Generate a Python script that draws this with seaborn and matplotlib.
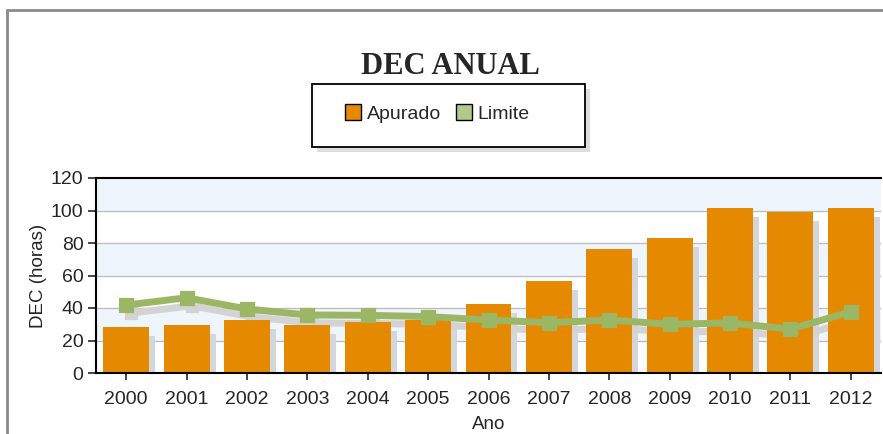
import numpy as np
import pandas as pd
import matplotlib
matplotlib.use("Agg")
import matplotlib.pyplot as plt
import matplotlib.transforms as mtransforms
from matplotlib.lines import Line2D
from matplotlib.patches import Rectangle
import seaborn as sns

# Values
anos = ["2000", "2001", "2002", "2003", "2004", "2005", "2006",
        "2007", "2008", "2009", "2010", "2011", "2012"]
apurado = [28.3, 29.5, 32.6, 29.5, 31.4, 32.6, 42.5, 56.6, 76.3, 83.0, 101.7, 99.3, 101.7]
limite = [41.8, 46.3, 39.4, 35.7, 35.5, 34.7, 32.6, 31.0, 32.6, 30.0, 30.8, 27.0, 37.7]
y_ticks = [0, 20, 40, 60, 80, 100, 120]

df = pd.DataFrame({"Ano": anos, "Apurado": apurado, "Limite": limite})

sns.set_style("white")
plt.rcParams["font.family"] = ["Liberation Sans", "DejaVu Sans"]

ORANGE = "#E58900"
GREEN = "#9BB665"
SHADOW = "#D3D6DA"
BAND = "#EEF5FC"

W, H = 883, 434
fig = plt.figure(figsize=(W / 100, H / 100), dpi=100)
ax = fig.add_axes([96 / W, 61 / H, 785 / W, 195 / H])

# alternating background bands
for lo in (20, 60, 100):
    ax.axhspan(lo, lo + 20, color=BAND, zorder=0)
for t in y_ticks[1:-1]:
    ax.axhline(t, color="#BBBBBB", linewidth=0.9, zorder=0.5)

shift_bar = mtransforms.offset_copy(ax.transData, fig=fig, x=6, y=-9, units="dots")
shift_line = mtransforms.offset_copy(ax.transData, fig=fig, x=5, y=-8, units="dots")

# bar shadows
n0 = len(ax.patches)
sns.barplot(data=df, x="Ano", y="Apurado", color=SHADOW, width=0.76,
            saturation=1, ax=ax, zorder=1)
for p in ax.patches[n0:]:
    p.set_transform(shift_bar)
    p.set_edgecolor("none")

# line shadow
l0 = len(ax.lines)
sns.pointplot(data=df, x="Ano", y="Limite", color="#D3D3D3", markers="s",
              errorbar=None, linewidth=5, markersize=6, ax=ax, zorder=1.5)
for ln in ax.lines[l0:]:
    ln.set_transform(shift_line)

# bars
n1 = len(ax.patches)
sns.barplot(data=df, x="Ano", y="Apurado", color=ORANGE, width=0.76,
            saturation=1, ax=ax, zorder=2)
for p in ax.patches[n1:]:
    p.set_edgecolor("none")

# limit line
sns.pointplot(data=df, x="Ano", y="Limite", color=GREEN, markers="s",
              errorbar=None, linewidth=5, markersize=7, ax=ax, zorder=3)

ax.set_xlim(-0.5, len(anos) - 0.5)
ax.set_ylim(0, 120)
ax.set_yticks(y_ticks)
ax.set_xlabel("Ano", fontsize=13.5, labelpad=6)
ax.set_ylabel("DEC (horas)", fontsize=13.5, labelpad=3)
ax.tick_params(axis="x", length=5, width=1.2, pad=8, labelsize=14, bottom=True)
ax.tick_params(axis="y", length=6, width=1.2, pad=3, labelsize=14, left=True)
for s in ("left", "bottom", "top"):
    ax.spines[s].set_color("black")
    ax.spines[s].set_linewidth(1.5)
ax.spines["right"].set_visible(False)

# title
fig.text(450 / W, 1 - 67 / H, "DEC ANUAL", ha="center", va="center",
         fontsize=22, fontweight="bold", family=["Liberation Serif", "DejaVu Serif"])

# legend box with shadow
fig.patches.append(Rectangle((317 / W, 1 - 152 / H), 273 / W, 63 / H,
                             transform=fig.transFigure, facecolor="#DDDDDD",
                             edgecolor="none", zorder=0))
fig.patches.append(Rectangle((312 / W, 1 - 147 / H), 273 / W, 63 / H,
                             transform=fig.transFigure, facecolor="white",
                             edgecolor="black", linewidth=1.3, zorder=1))
handles = [
    Line2D([], [], marker="s", linestyle="none", markersize=11,
           markerfacecolor=ORANGE, markeredgecolor="black", markeredgewidth=1),
    Line2D([], [], marker="s", linestyle="none", markersize=11,
           markerfacecolor="#B3C88A", markeredgecolor="black", markeredgewidth=1),
]
leg = fig.legend(handles, ["Apurado", "Limite"], loc="center",
                 bbox_to_anchor=(438 / W, 1 - 114 / H), ncol=2, frameon=False,
                 fontsize=14, handlelength=0.7, handletextpad=0.35,
                 columnspacing=0.8)
leg.set_zorder(2)

# outer frame
fig.add_artist(Line2D([7 / W, 7 / W], [0, 1 - 10 / H], color="#8A8A8A",
                      linewidth=2, transform=fig.transFigure))
fig.add_artist(Line2D([7 / W, 1], [1 - 10 / H, 1 - 10 / H], color="#8A8A8A",
                      linewidth=2, transform=fig.transFigure))

fig.savefig("out.png", dpi=100)
